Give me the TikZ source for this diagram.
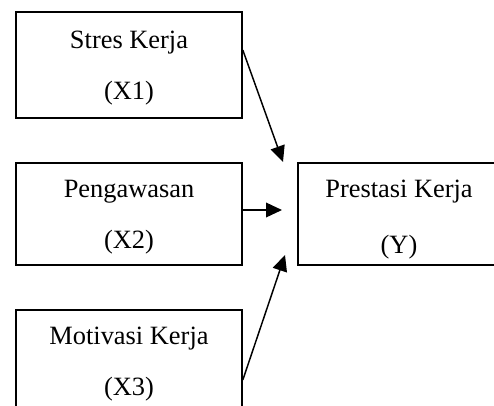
\documentclass[tikz,border=0pt]{standalone}
\usepackage{fontspec}
\setmainfont{Liberation Serif}
\usetikzlibrary{arrows.meta}

\begin{document}
\begin{tikzpicture}[x=0.75pt,y=-0.75pt]
\tikzset{
  varbox/.style={rectangle,draw,line width=1.2pt,minimum width=169.5pt,minimum height=76.5pt,inner sep=0pt,align=center,text depth=0pt,font=\fontsize{19.8}{38.25}\selectfont},
  influence/.style={-{Triangle[length=12pt,width=11pt]},line width=1.1pt}
}
\useasboundingbox (0,0) rectangle (494,405);
\node[varbox,minimum height=79.5pt] (n_x1) at (129,65) {Stres Kerja\\(X1)};
\node[varbox] (n_x2) at (129,214) {Pengawasan\\(X2)};
\node[varbox] (n_x3) at (129,361) {Motivasi Kerja\\(X3)};
\node[varbox,minimum width=151.5pt] (n_y) at (399,214) {Prestasi Kerja\\\raisebox{-3.75pt}[\dimexpr\height-3.75pt\relax][\depth]{(Y)}};
\coordinate (t_x1) at (283,162);
\coordinate (t_x2) at (282,210);
\coordinate (t_x3) at (285,255);
\draw[influence] ([yshift=11.25pt]n_x1.east) -- (t_x1);
\draw[influence] ([yshift=3pt]n_x2.east) -- (t_x2);
\draw[influence] ([yshift=-14.25pt]n_x3.east) -- (t_x3);
\end{tikzpicture}
\end{document}
